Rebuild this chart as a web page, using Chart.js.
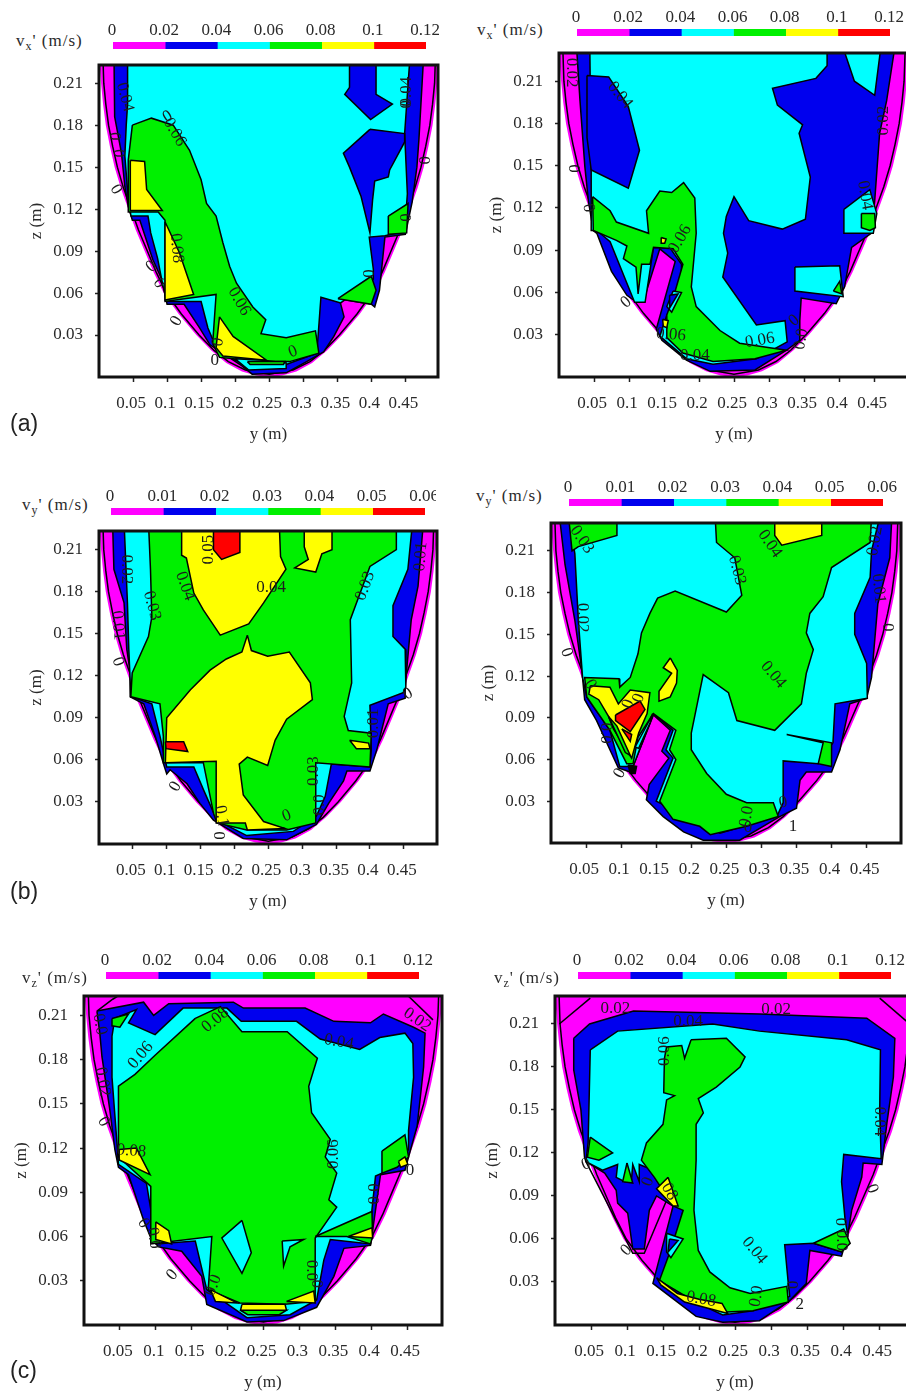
<!DOCTYPE html>
<html>
<head>
<meta charset="utf-8">
<title>Turbulence contours</title>
<script src="https://cdn.jsdelivr.net/npm/chart.js@4"></script>
<style>
  html, body { margin: 0; padding: 0; width: 906px; height: 1393px; overflow: hidden; background: #fff; }
  canvas { position: absolute; display: block; }
  .unit { position: absolute; font: 17px "Liberation Serif", serif; letter-spacing: 1px; color: #2a2a2a; white-space: nowrap; }
  .unit sub { font-size: 12px; line-height: 0; }
  .tag { position: absolute; font: 23px "Liberation Sans", sans-serif; color: #222; }
</style>
</head>
<body>
<script>
const magenta = "#ff00ff", blue = "#0000ee", cyan = "#00ffff", green = "#00f000", yellow = "#ffff00", red = "#ff0000", black = "#000000";
const levelColors = [magenta, blue, cyan, green, yellow, red];

const yTicks = [0.05, 0.1, 0.15, 0.2, 0.25, 0.3, 0.35, 0.4, 0.45];
const zTicks = [0.03, 0.06, 0.09, 0.12, 0.15, 0.18, 0.21];
const levelsXZ = [0, 0.02, 0.04, 0.06, 0.08, 0.1, 0.12];
const levelsY = [0, 0.01, 0.02, 0.03, 0.04, 0.05, 0.06];

// channel wall, shared by all six sections
const wall = [[0,.24],[.001,.223],[.003,.21],[.006,.195],[.010,.18],[.016,.165],[.023,.15],[.032,.135],[.043,.12],[.054,.105],[.067,.09],[.080,.075],[.095,.06],[.117,.045],[.143,.03],[.165,.019],[.187,.01],[.21,.004],[.231,.001],[.25,0],[.269,.001],[.29,.004],[.313,.01],[.335,.019],[.357,.03],[.383,.045],[.405,.06],[.42,.075],[.433,.09],[.446,.105],[.457,.12],[.468,.135],[.477,.15],[.484,.165],[.49,.18],[.494,.195],[.497,.21],[.499,.223],[.5,.24]];
const zeroLine = [[.005,.24],[.007,.21],[.01,.195],[.014,.18],[.02,.165],[.027,.15],[.036,.135],[.047,.12],[.058,.105],[.071,.09],[.084,.075],[.099,.06],[.121,.045],[.147,.03],[.169,.019],[.19,.011],[.215,.005],[.25,.002],[.285,.005],[.31,.011],[.331,.019],[.353,.03],[.379,.045],[.401,.06],[.416,.075],[.429,.09],[.442,.105],[.453,.12],[.464,.135],[.473,.15],[.48,.165],[.486,.18],[.49,.195],[.493,.21],[.495,.24]];

// (a) left, vx'
const aBlue = [[.022,.23],[.023,.186],[.033,.16],[.038,.136],[.043,.122],[.049,.112],[.06,.112],[.079,.084],[.092,.07],[.1,.052],[.125,.052],[.148,.035],[.163,.023],[.21,.008],[.225,.002],[.275,.003],[.305,.011],[.33,.018],[.345,.029],[.36,.043],[.353,.056],[.40,.052],[.405,.05],[.412,.062],[.42,.10],[.45,.102],[.46,.125],[.467,.15],[.47,.17],[.477,.23]];
const aCyan = [[.042,.23],[.042,.195],[.04,.18],[.038,.158],[.043,.127],[.047,.115],[.072,.115],[.076,.103],[.086,.085],[.094,.065],[.1,.054],[.15,.054],[.16,.035],[.167,.027],[.2,.012],[.275,.009],[.32,.017],[.326,.057],[.355,.053],[.403,.07],[.403,.077],[.397,.1],[.42,.101],[.449,.104],[.453,.131],[.449,.174],[.457,.23]];
const aIsland1 = [[.368,.23],[.368,.207],[.361,.202],[.399,.184],[.431,.195],[.407,.202],[.407,.23]];
const aIsland2 = [[.398,.177],[.449,.174],[.449,.168],[.427,.148],[.425,.143],[.405,.14],[.402,.127],[.398,.103],[.385,.129],[.368,.15],[.359,.16]];
const aGreen = [[.049,.18],[.077,.185],[.109,.18],[.133,.162],[.15,.141],[.158,.124],[.172,.115],[.182,.096],[.192,.079],[.202,.067],[.226,.05],[.245,.041],[.238,.031],[.275,.028],[.318,.033],[.323,.017],[.28,.011],[.241,.011],[.177,.014],[.167,.024],[.172,.059],[.097,.054],[.097,.112],[.087,.118],[.044,.118],[.043,.155]];
const aGreen2 = [[.351,.056],[.40,.072],[.407,.062],[.40,.052]];
const aGreen3 = [[.425,.115],[.454,.124],[.452,.103],[.425,.102]];
const aYellow1 = [[.046,.155],[.067,.154],[.07,.134],[.093,.119],[.046,.119]];
const aYellow2 = [[.097,.111],[.118,.089],[.139,.059],[.097,.055]];
const aYellow3 = [[.177,.043],[.197,.029],[.246,.012],[.182,.015],[.172,.021]];
const aStrip = [[.2,.013],[.24,.012],[.275,.01],[.275,.006],[.22,.005]];
const aStrip2 = [[.218,.011],[.273,.011],[.271,.009],[.222,.009]];
const aLabels = [["0.04",.038,.2,75],["0.04",.452,.204,-90],["0",.101,.186,-30],["0.06",.111,.175,60],["0",.022,.172,90],["0",.028,.16,90],["0",.477,.155,90],["0",.025,.134,60],["0.08",.114,.092,85],["0.06",.206,.054,60],["0",.114,.04,-60],["0",.285,.018,-20],["0",.395,.074,90],["0",.449,.195,90],["0",.449,.114,90],["0",.175,.025,-80],["0",.17,.012,0],["0",.077,.079,-40],["0",.088,.067,60]];

// (a) right, vx'
const bBlue = [[.025,.235],[.03,.196],[.037,.149],[.042,.125],[.049,.104],[.054,.102],[.075,.075],[.097,.058],[.111,.053],[.12,.053],[.144,.091],[.166,.082],[.139,.034],[.147,.026],[.182,.012],[.216,.004],[.28,.005],[.325,.019],[.344,.026],[.344,.04],[.346,.056],[.396,.052],[.408,.064],[.418,.092],[.446,.102],[.451,.125],[.458,.173],[.468,.196],[.48,.235]];
const bCyan = [[.044,.235],[.383,.235],[.383,.221],[.367,.212],[.305,.205],[.312,.193],[.348,.179],[.343,.173],[.359,.142],[.352,.112],[.319,.105],[.271,.111],[.25,.128],[.239,.114],[.235,.102],[.241,.088],[.234,.071],[.282,.037],[.323,.04],[.326,.025],[.282,.013],[.22,.009],[.182,.013],[.144,.029],[.154,.044],[.175,.06],[.175,.08],[.158,.092],[.135,.092],[.123,.053],[.108,.053],[.073,.096],[.054,.104],[.047,.104],[.046,.147]];
const bBlueIsland = [[.04,.214],[.071,.213],[.099,.192],[.115,.161],[.099,.134],[.046,.147],[.04,.17]];
const bCyan2 = [[.405,.235],[.46,.235],[.451,.2],[.422,.21]];
const bCyan3 = [[.337,.078],[.401,.079],[.406,.057],[.337,.061]];
const bCyan4 = [[.407,.119],[.444,.133],[.454,.116],[.449,.102],[.407,.102]];
const bGreen = [[.048,.128],[.073,.118],[.082,.11],[.128,.102],[.125,.118],[.144,.132],[.161,.131],[.178,.138],[.194,.127],[.196,.102],[.189,.064],[.196,.05],[.23,.033],[.258,.024],[.325,.019],[.28,.013],[.22,.011],[.177,.017],[.154,.028],[.154,.044],[.166,.061],[.177,.08],[.163,.091],[.135,.092],[.13,.08],[.118,.08],[.113,.059],[.11,.078],[.092,.084],[.097,.093],[.082,.097],[.049,.104]];
const bGreen2 = [[.432,.116],[.451,.116],[.452,.106],[.444,.104],[.432,.106]];
const bGreen3 = [[.392,.061],[.401,.068],[.404,.059]];
const bPatch = [[.163,.061],[.175,.06],[.161,.046],[.154,.05]];
const bPatch2 = [[.158,.058],[.17,.059],[.158,.049]];
const bYellow = [[.148,.041],[.156,.04],[.154,.035],[.149,.036]];
const bYellow2 = [[.146,.099],[.153,.098],[.151,.095],[.146,.095]];
const bLabels = [["0.02",.018,.216,90],["0.04",.087,.2,50],["0",.02,.148,90],["0",.042,.12,80],["0.02",.463,.182,-90],["0.04",.437,.129,80],["0.06",.173,.098,-60],["0.06",.16,.03,5],["0.04",.194,.015,0],["0.06",.287,.026,-10],["0",.336,.04,-40],["0.0",.346,.027,-80],["0",.096,.053,-40]];

// (b) left, vy'
const cBlue = [[.02,.23],[.022,.196],[.037,.172],[.041,.139],[.047,.12],[.046,.105],[.066,.1],[.083,.077],[.096,.056],[.1,.05],[.105,.053],[.13,.043],[.149,.029],[.169,.017],[.213,.004],[.277,.003],[.321,.014],[.339,.029],[.361,.045],[.366,.052],[.4,.052],[.41,.067],[.427,.1],[.452,.104],[.452,.112],[.457,.139],[.461,.16],[.471,.184],[.479,.23]];
const cCyan = [[.037,.23],[.463,.23],[.456,.196],[.434,.17],[.434,.148],[.452,.139],[.453,.112],[.449,.108],[.4,.099],[.402,.067],[.4,.055],[.343,.057],[.334,.034],[.321,.02],[.287,.009],[.218,.006],[.174,.017],[.154,.039],[.14,.055],[.1,.055],[.09,.077],[.078,.1],[.047,.105],[.044,.139],[.042,.172]];
const cGreen = [[.073,.23],[.076,.196],[.078,.162],[.073,.148],[.049,.122],[.047,.105],[.09,.1],[.095,.077],[.095,.058],[.154,.058],[.162,.039],[.169,.022],[.174,.015],[.218,.01],[.277,.01],[.32,.015],[.32,.058],[.4,.055],[.402,.079],[.368,.081],[.362,.091],[.373,.115],[.371,.16],[.4,.198],[.439,.21],[.439,.23]];
const cYellow1 = [[.122,.23],[.266,.23],[.268,.205],[.276,.196],[.243,.172],[.221,.157],[.179,.149],[.154,.167],[.14,.179],[.129,.204],[.122,.206]];
const cRed1 = [[.169,.23],[.208,.23],[.208,.208],[.181,.203],[.169,.21]];
const cYellow2 = [[.303,.23],[.344,.23],[.344,.21],[.329,.207],[.32,.194],[.289,.197],[.309,.203],[.303,.212]];
const cYellow3 = [[.219,.149],[.225,.138],[.249,.134],[.281,.137],[.312,.115],[.315,.103],[.277,.089],[.26,.074],[.249,.056],[.219,.062],[.207,.057],[.213,.035],[.243,.016],[.275,.011],[.219,.01],[.216,.015],[.174,.015],[.173,.059],[.098,.058],[.1,.09],[.135,.11],[.164,.124],[.188,.132],[.211,.137]];
const cRed2 = [[.098,.073],[.125,.073],[.131,.066],[.099,.068]];
const cYellow4 = [[.37,.074],[.398,.072],[.4,.068],[.38,.068]];
const cLabels = [["0.05",.162,.21,-90],["0.02",.041,.196,90],["0.04",.127,.184,70],["0.03",.078,.17,75],["0.04",.254,.183,0],["0.03",.393,.184,-70],["0.01",.475,.205,-85],["0.01",.028,.156,85],["0",.028,.13,70],["0.03",.317,.052,-90],["0.01",.405,.086,-90],["0",.456,.107,-30],["0",.113,.041,-60],["0",.277,.02,-20],["0",.176,.006,90],["0.0",.326,.028,-90],["0.1",.181,.02,80]];

// (b) right, vy'
const dBlue = [[.012,.235],[.02,.2],[.034,.16],[.044,.124],[.048,.103],[.065,.088],[.084,.067],[.096,.054],[.113,.051],[.117,.055],[.146,.092],[.17,.081],[.158,.066],[.168,.061],[.14,.042],[.136,.031],[.16,.019],[.189,.008],[.217,.002],[.269,.002],[.326,.019],[.35,.025],[.355,.045],[.364,.051],[.4,.051],[.412,.067],[.426,.1],[.45,.104],[.457,.119],[.466,.172],[.483,.205],[.486,.235]];
const dCyan = [[.025,.235],[.469,.235],[.457,.21],[.455,.191],[.433,.165],[.433,.15],[.45,.129],[.451,.104],[.405,.1],[.402,.072],[.381,.057],[.331,.059],[.331,.029],[.322,.019],[.241,.007],[.15,.03],[.174,.061],[.164,.067],[.174,.081],[.146,.093],[.117,.055],[.098,.055],[.084,.081],[.051,.105],[.045,.119],[.039,.16],[.034,.208]];
const dGreen1 = [[.025,.235],[.094,.235],[.094,.221],[.039,.213],[.03,.21]];
const dGreen2 = [[.234,.235],[.457,.235],[.455,.216],[.4,.198],[.388,.177],[.369,.165],[.364,.151],[.374,.139],[.364,.122],[.357,.1],[.319,.081],[.265,.088],[.253,.108],[.217,.121],[.2,.079],[.2,.067],[.222,.05],[.25,.035],[.279,.029],[.317,.029],[.324,.019],[.279,.012],[.227,.006],[.212,.012],[.174,.017],[.155,.03],[.178,.06],[.169,.067],[.178,.081],[.146,.093],[.124,.076],[.117,.057],[.108,.057],[.084,.081],[.051,.105],[.048,.119],[.097,.118],[.098,.112],[.113,.119],[.124,.136],[.129,.151],[.141,.165],[.152,.176],[.177,.181],[.25,.166],[.272,.178],[.262,.205],[.236,.216]];
const dGreen3 = [[.336,.078],[.4,.072],[.4,.055],[.381,.057],[.388,.072]];
const dYellow1 = [[.319,.235],[.386,.235],[.386,.221],[.329,.214],[.319,.221]];
const dYellow2 = [[.17,.133],[.18,.124],[.179,.115],[.17,.105],[.154,.102],[.154,.109],[.172,.122],[.16,.126]];
const dYellow3 = [[.056,.113],[.084,.112],[.096,.1],[.113,.11],[.141,.108],[.137,.093],[.125,.079],[.115,.061],[.106,.068],[.089,.082],[.082,.091],[.068,.103],[.054,.107]];
const dGreen4 = [[.082,.091],[.106,.065],[.113,.063],[.094,.084]];
const dCyan5 = [[.12,.069],[.137,.085],[.145,.093],[.141,.086],[.125,.068]];
const dRed1 = [[.092,.092],[.127,.102],[.134,.096],[.113,.08],[.092,.088]];
const dRed2 = [[.101,.082],[.115,.078],[.113,.073]];
const dBlot = [[.11,.056],[.122,.055],[.12,.05],[.113,.05]];
const dLabels = [["0.03",.044,.218,55],["0.04",.312,.215,55],["0.03",.265,.196,75],["0.02",.462,.217,-80],["0.01",.467,.183,85],["0.02",.045,.162,90],["0",.022,.137,70],["0",.48,.155,90],["0.04",.317,.121,50],["0",.098,.05,-60],["0.0",.077,.079,90],["0",.331,.029,-10],["0.0",.279,.019,-80],["0",.281,.011,0],["1",.345,.012,0],["0",.056,.114,60],["0",.11,.1,-70],["0",.125,.104,-70]];

// (c) left, vz'
const eBlue = [[.018,.213],[.083,.219],[.097,.21],[.118,.218],[.208,.219],[.222,.215],[.308,.215],[.348,.206],[.399,.205],[.417,.211],[.459,.202],[.475,.198],[.473,.175],[.464,.135],[.452,.114],[.447,.105],[.413,.102],[.406,.078],[.399,.054],[.362,.052],[.348,.033],[.324,.012],[.278,.003],[.227,.002],[.171,.014],[.164,.033],[.136,.05],[.104,.053],[.094,.058],[.083,.071],[.062,.102],[.048,.107],[.043,.119],[.036,.146],[.025,.182],[.022,.198]];
const eCyan = [[.039,.196],[.043,.208],[.073,.214],[.062,.205],[.099,.197],[.138,.215],[.199,.215],[.219,.206],[.296,.206],[.329,.194],[.384,.187],[.412,.195],[.447,.198],[.458,.191],[.459,.168],[.452,.132],[.452,.119],[.415,.103],[.406,.101],[.401,.078],[.399,.055],[.343,.058],[.334,.044],[.324,.017],[.287,.007],[.227,.005],[.171,.024],[.155,.057],[.101,.055],[.087,.096],[.048,.109],[.046,.123],[.039,.168]];
const eGreen1 = [[.155,.208],[.19,.216],[.22,.199],[.283,.199],[.325,.181],[.313,.162],[.317,.144],[.343,.126],[.336,.114],[.352,.103],[.341,.085],[.352,.08],[.322,.059],[.322,.016],[.28,.014],[.217,.015],[.173,.024],[.178,.06],[.092,.055],[.093,.094],[.048,.114],[.048,.162],[.071,.17],[.099,.183]];
const eHole1 = [[.22,.071],[.233,.049],[.22,.035],[.192,.059]];
const eHole2 = [[.276,.057],[.306,.058],[.287,.053],[.278,.04]];
const eGreen2 = [[.039,.208],[.062,.211],[.05,.202],[.039,.203]];
const eGreen3 = [[.415,.118],[.447,.129],[.452,.114],[.436,.107],[.415,.103]];
const eGreen4 = [[.322,.06],[.401,.077],[.402,.06],[.399,.055],[.366,.06]];
const eGreen5 = [[.218,.01],[.282,.01],[.272,.007],[.228,.007]];
const eYellow1 = [[.368,.06],[.401,.066],[.402,.059]];
const eYellow2 = [[.438,.111],[.447,.114],[.451,.109],[.441,.107]];
const eYellow3 = [[.049,.119],[.073,.12],[.092,.102],[.049,.112]];
const eYellow4 = [[.1,.07],[.118,.064],[.122,.055],[.1,.058]];
const eYellow5 = [[.176,.024],[.213,.015],[.183,.016]];
const eYellow6 = [[.22,.014],[.28,.014],[.282,.01],[.218,.01]];
const eYellow7 = [[.282,.016],[.32,.023],[.322,.015]];
const eCorner1 = [[.018,.213],[.04,.221],[.05,.224]];
const eCorner2 = [[.45,.224],[.486,.207]];
const eLabels = [["0.08",.183,.207,-40],["0.06",.079,.183,-50],["0.04",.355,.192,10],["0.02",.464,.207,35],["0.02",.026,.165,80],["0.0",.022,.204,80],["0",.027,.138,60],["0.08",.066,.118,5],["0.06",.348,.116,-90],["0.0",.405,.089,-90],["0",.083,.069,60],["0.0",.097,.059,80],["0",.123,.034,-50],["0.0",.18,.027,-70],["0.0",.317,.037,90],["0",.324,.028,90],["0",.454,.105,0]];

// (c) right, vz'
const fBlue = [[.026,.2],[.048,.21],[.109,.219],[.284,.217],[.433,.214],[.472,.2],[.47,.173],[.461,.141],[.454,.112],[.428,.113],[.426,.103],[.412,.08],[.407,.064],[.398,.048],[.354,.052],[.349,.029],[.326,.017],[.284,.003],[.233,.002],[.196,.006],[.136,.029],[.164,.083],[.141,.09],[.131,.08],[.124,.053],[.108,.053],[.101,.078],[.087,.085],[.085,.094],[.069,.106],[.043,.114],[.041,.117],[.036,.15],[.026,.178]];
const fCyan = [[.049,.192],[.087,.205],[.219,.21],[.284,.205],[.405,.199],[.452,.192],[.451,.15],[.453,.116],[.401,.119],[.398,.1],[.403,.073],[.407,.062],[.398,.051],[.359,.057],[.319,.056],[.324,.029],[.326,.02],[.275,.01],[.233,.007],[.178,.02],[.155,.034],[.178,.08],[.143,.103],[.136,.108],[.117,.112],[.117,.1],[.108,.112],[.106,.1],[.097,.1],[.085,.103],[.087,.112],[.066,.108],[.043,.114],[.046,.127]];
const fGreen1 = [[.189,.199],[.238,.2],[.264,.187],[.257,.18],[.224,.166],[.199,.158],[.206,.148],[.196,.14],[.196,.115],[.193,.08],[.199,.052],[.215,.037],[.243,.026],[.271,.022],[.322,.027],[.324,.016],[.275,.01],[.238,.009],[.182,.02],[.145,.031],[.159,.05],[.178,.08],[.164,.083],[.138,.103],[.12,.115],[.127,.127],[.15,.14],[.155,.157],[.166,.16],[.151,.162],[.152,.186],[.155,.194],[.176,.195],[.18,.186]];
const fGreen2 = [[.1,.113],[.108,.099],[.094,.1]];
const fGreen3 = [[.049,.131],[.08,.12],[.061,.115],[.045,.117]];
const fGreen4 = [[.359,.057],[.401,.067],[.41,.057],[.398,.051]];
const fPatch = [[.155,.064],[.178,.06],[.161,.047],[.155,.051]];
const fPatch2 = [[.159,.06],[.171,.059],[.157,.051]];
const fYellow1 = [[.157,.103],[.171,.083],[.164,.083],[.141,.095]];
const fYellow2 = [[.141,.033],[.17,.022],[.2,.018],[.232,.015],[.24,.008],[.21,.012],[.18,.016],[.147,.028]];
const fCorner1 = [[.049,.228],[.006,.21]];
const fCorner2 = [[.451,.228],[.488,.212]];
const fWedge = [[.043,.114],[.108,.05],[.124,.05],[.155,.087]];
const fLabels = [["0.02",.084,.221,0],["0.02",.307,.22,0],["0.04",.185,.212,0],["0.06",.152,.191,-90],["0.04",.451,.142,90],["0.04",.277,.052,50],["0.08",.203,.018,10],["0",.043,.112,-20],["0",.099,.052,-45],["0",.44,.095,70],["0",.129,.1,-70],["08",.159,.093,60],["0",.396,.072,90],["0.0",.398,.059,90],["0.0",.28,.02,-80],["0",.329,.028,90],["2",.34,.014,0]];

// [fill colour or null for a bare line, outline?, vertices], painted first to last
const base = [[magenta, false, wall], [null, true, zeroLine]];
const aLayers = base.concat([[blue,true,aBlue],[cyan,true,aCyan],[blue,true,aIsland1],[blue,true,aIsland2],[green,true,aGreen],[green,true,aGreen2],[green,true,aGreen3],[yellow,true,aYellow1],[yellow,true,aYellow2],[yellow,true,aYellow3],[cyan,true,aStrip],[green,true,aStrip2]]);
const bLayers = base.concat([[blue,true,bBlue],[cyan,true,bCyan],[blue,true,bBlueIsland],[cyan,true,bCyan2],[cyan,true,bCyan3],[cyan,true,bCyan4],[green,true,bGreen],[green,true,bGreen2],[green,true,bGreen3],[cyan,true,bPatch],[blue,true,bPatch2],[yellow,true,bYellow],[yellow,true,bYellow2]]);
const cLayers = base.concat([[blue,true,cBlue],[cyan,true,cCyan],[green,true,cGreen],[yellow,true,cYellow1],[red,true,cRed1],[yellow,true,cYellow2],[yellow,true,cYellow3],[red,true,cRed2],[yellow,true,cYellow4]]);
const dLayers = base.concat([[blue,true,dBlue],[cyan,true,dCyan],[green,true,dGreen1],[green,true,dGreen2],[green,true,dGreen3],[yellow,true,dYellow1],[yellow,true,dYellow2],[yellow,true,dYellow3],[green,true,dGreen4],[cyan,true,dCyan5],[red,true,dRed1],[red,true,dRed2],[black,true,dBlot]]);
const eLayers = base.concat([[blue,true,eBlue],[cyan,true,eCyan],[green,true,eGreen1],[cyan,true,eHole1],[cyan,true,eHole2],[green,true,eGreen2],[green,true,eGreen3],[green,true,eGreen4],[green,true,eGreen5],[yellow,true,eYellow1],[yellow,true,eYellow2],[yellow,true,eYellow3],[yellow,true,eYellow4],[yellow,true,eYellow5],[yellow,true,eYellow6],[yellow,true,eYellow7],[null,true,eCorner1],[null,true,eCorner2]]);
const fLayers = base.concat([[null,true,fWedge],[blue,true,fBlue],[cyan,true,fCyan],[green,true,fGreen1],[green,true,fGreen2],[green,true,fGreen3],[green,true,fGreen4],[cyan,true,fPatch],[blue,true,fPatch2],[yellow,true,fYellow1],[yellow,true,fYellow2],[null,true,fCorner1],[null,true,fCorner2]]);

const SERIF = '"Liberation Serif", serif';
const INK = "#2a2a2a";
const AXIS_W = 76, AXIS_H = 68;

function fmtTick(v) { return String(Number(v.toFixed(2))); }

const contourText = {
  id: "contourText",
  afterDatasetsDraw(chart, args, opts) {
    const { ctx, scales } = chart;
    ctx.save();
    ctx.font = "17px " + SERIF;
    ctx.fillStyle = "#1c1c1c";
    ctx.textAlign = "center";
    ctx.textBaseline = "middle";
    opts.items.forEach(([txt, y, z, rot]) => {
      ctx.save();
      ctx.translate(scales.x.getPixelForValue(y), scales.y.getPixelForValue(z));
      ctx.rotate(rot * Math.PI / 180);
      ctx.fillText(txt, 0, 0);
      ctx.restore();
    });
    ctx.restore();
  }
};

const frame = {
  id: "frame",
  afterDraw(chart) {
    const { ctx, chartArea: a } = chart;
    ctx.save();
    ctx.strokeStyle = "#111";
    ctx.lineWidth = 3;
    ctx.strokeRect(a.left, a.top, a.right - a.left, a.bottom - a.top);
    ctx.restore();
  }
};

function addCanvas(left, top, w, h) {
  const c = document.createElement("canvas");
  c.width = w;
  c.height = h;
  c.style.left = left + "px";
  c.style.top = top + "px";
  c.style.width = w + "px";
  c.style.height = h + "px";
  document.body.appendChild(c);
  return c;
}

function drawSection(box, yMax, zMax, layers, labels) {
  const pad = 6;
  const c = addCanvas(box.left - AXIS_W, box.top - pad, box.right - box.left + AXIS_W + pad, box.bottom - box.top + AXIS_H + pad);
  // datasets paint last to first, so the list is reversed
  const datasets = layers.slice().reverse().map(([color, outline, pts]) => {
    const data = pts.map(p => ({ x: p[0], y: p[1] }));
    if (color) data.push(data[0]);
    return {
      data,
      showLine: true,
      pointRadius: 0,
      borderWidth: outline ? 1.5 : 0,
      borderColor: "#000",
      backgroundColor: color || "transparent",
      fill: color ? "shape" : false,
      tension: 0
    };
  });
  new Chart(c, {
    type: "scatter",
    data: { datasets },
    plugins: [contourText, frame],
    options: {
      responsive: false,
      animation: false,
      layout: { padding: { top: pad, right: pad, left: 0, bottom: 0 } },
      plugins: { legend: { display: false }, tooltip: { enabled: false }, contourText: { items: labels } },
      scales: {
        x: {
          type: "linear", min: 0, max: yMax,
          afterBuildTicks(s) { s.ticks = yTicks.map(v => ({ value: v })); },
          afterFit(s) { s.height = AXIS_H; s.paddingLeft = 0; s.paddingRight = 0; },
          grid: { drawOnChartArea: false, tickLength: 5, tickColor: "#222", tickWidth: 1.5 },
          border: { display: false },
          ticks: { callback: fmtTick, autoSkip: false, maxRotation: 0, padding: 11, labelOffset: -2, color: INK, font: { family: SERIF, size: 17 } },
          title: { display: true, text: "y (m)", color: INK, padding: 0, font: { family: SERIF, size: 17 } }
        },
        y: {
          type: "linear", min: 0, max: zMax,
          afterBuildTicks(s) { s.ticks = zTicks.map(v => ({ value: v })); },
          afterFit(s) { s.width = AXIS_W; s.paddingTop = 0; s.paddingBottom = 0; },
          grid: { drawOnChartArea: false, tickLength: 4, tickColor: "#222", tickWidth: 1.5 },
          border: { display: false },
          ticks: { callback: fmtTick, autoSkip: false, padding: 12, color: INK, font: { family: SERIF, size: 17 } },
          title: { display: true, text: "z (m)", color: INK, padding: 3, font: { family: SERIF, size: 17 } }
        }
      }
    }
  });
}

function drawColorBar(left, right, barTop, clipRight, levels) {
  const head = 28, side = 20, barH = 7;
  const c = addCanvas(left - side, barTop - head, clipRight - left + side, head + barH);
  const datasets = levelColors.map((color, i) => ({
    data: [levels[i + 1] - levels[i]],
    backgroundColor: color,
    borderWidth: 0,
    barPercentage: 1,
    categoryPercentage: 1
  }));
  new Chart(c, {
    type: "bar",
    data: { labels: [""], datasets },
    options: {
      indexAxis: "y",
      responsive: false,
      animation: false,
      layout: { padding: { left: side, right: clipRight - right, top: 0, bottom: 0 } },
      plugins: { legend: { display: false }, tooltip: { enabled: false } },
      scales: {
        x: {
          position: "top", type: "linear", stacked: true, min: 0, max: levels[levels.length - 1],
          afterBuildTicks(s) { s.ticks = levels.map(v => ({ value: v })); },
          afterFit(s) { s.height = head; s.paddingLeft = 0; s.paddingRight = 0; },
          grid: { display: false, drawTicks: false },
          border: { display: false },
          ticks: { callback: fmtTick, autoSkip: false, maxRotation: 0, padding: 1, labelOffset: -1, color: INK, font: { family: SERIF, size: 17 } }
        },
        y: { stacked: true, display: false }
      }
    }
  });
}

function addUnit(left, centerY, axis) {
  const d = document.createElement("div");
  d.className = "unit";
  d.style.left = left + "px";
  d.style.top = (centerY - 10) + "px";
  d.innerHTML = "v<sub>" + axis + "</sub>' (m/s)";
  document.body.appendChild(d);
}

function addTag(txt, left, centerY) {
  const d = document.createElement("div");
  d.className = "tag";
  d.style.left = left + "px";
  d.style.top = (centerY - 14) + "px";
  d.textContent = txt;
  document.body.appendChild(d);
}

drawSection({ left: 99, right: 438, top: 65, bottom: 377 }, 0.498, 0.223, aLayers, aLabels);
drawSection({ left: 559, right: 909, top: 53, bottom: 377 }, 0.5, 0.23, bLayers, bLabels);
drawSection({ left: 99, right: 437, top: 531, bottom: 844 }, 0.499, 0.2233, cLayers, cLabels);
drawSection({ left: 551, right: 901, top: 523, bottom: 843 }, 0.499, 0.23, dLayers, dLabels);
drawSection({ left: 84, right: 442, top: 996, bottom: 1325 }, 0.4986, 0.2232, eLayers, eLabels);
drawSection({ left: 555, right: 915, top: 996, bottom: 1325 }, 0.5, 0.2295, fLayers, fLabels);

drawColorBar(113, 426, 42, 439, levelsXZ);
drawColorBar(577, 890, 29, 906, levelsXZ);
drawColorBar(111, 425, 508, 436, levelsY);
drawColorBar(569, 883, 499, 906, levelsY);
drawColorBar(106, 419, 972, 440, levelsXZ);
drawColorBar(578, 891, 972, 906, levelsXZ);

addUnit(16, 41, "x");
addUnit(477, 30, "x");
addUnit(22, 505, "y");
addUnit(476, 496, "y");
addUnit(22, 978, "z");
addUnit(494, 978, "z");

addTag("(a)", 10, 424);
addTag("(b)", 10, 892);
addTag("(c)", 10, 1371);
</script>
</body>
</html>
